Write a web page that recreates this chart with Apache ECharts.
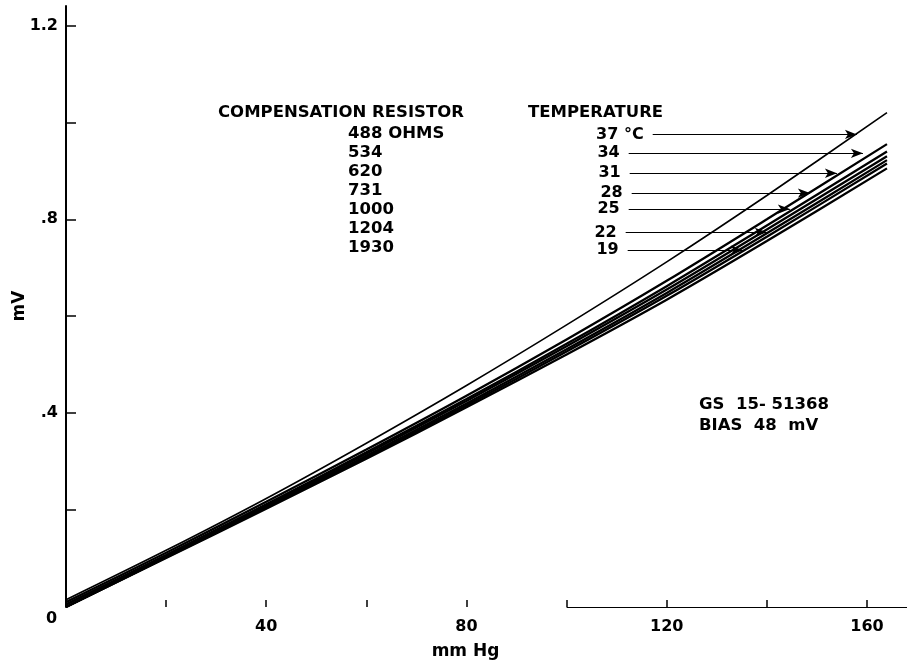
<!DOCTYPE html>
<html>
<head>
<meta charset="utf-8">
<script src="https://cdn.jsdelivr.net/npm/echarts@6/dist/echarts.min.js"></script>
<style>
    html, body { margin: 0; padding: 0; background: #fff; }
    #chart { width: 907px; height: 661px; }
</style>
</head>
<body>
<div id="chart"></div>
<script>
    // pressure points (mm Hg)
    const pressure = [0, 20, 40, 60, 80, 100, 120, 140, 164];
    // output (mV) for each temperature curve
    const temps = ['37', '34', '31', '28', '25', '22', '19'];
    const curve37 = [0.015, 0.117, 0.224, 0.338, 0.457, 0.582, 0.712, 0.849, 1.020];
    const curve34 = [0.010, 0.112, 0.217, 0.325, 0.436, 0.552, 0.673, 0.800, 0.955];
    const curve31 = [0.005, 0.107, 0.212, 0.319, 0.429, 0.543, 0.662, 0.787, 0.940];
    const curve28 = [0.005, 0.106, 0.210, 0.316, 0.425, 0.538, 0.655, 0.779, 0.930];
    const curve25 = [0.000, 0.103, 0.207, 0.312, 0.420, 0.532, 0.648, 0.771, 0.922];
    const curve22 = [0.000, 0.102, 0.205, 0.309, 0.416, 0.527, 0.642, 0.764, 0.915];
    const curve19 = [0.000, 0.101, 0.203, 0.306, 0.412, 0.521, 0.634, 0.755, 0.905];
    const curves = [curve37, curve34, curve31, curve28, curve25, curve22, curve19];

    // temperature pointer arrows
    const arrowText = ['37 °C', '34', '31', '28', '25', '22', '19'];
    const arrowY = [0.975, 0.936, 0.895, 0.854, 0.821, 0.773, 0.736];
    const arrowFrom = [117.2, 112.4, 112.6, 113.0, 112.4, 111.8, 112.2];
    const arrowTo = [158.0, 159.2, 154.0, 148.6, 144.6, 140.0, 135.2];

    const resistors = ['488 OHMS', '534', '620', '731', '1000', '1204', '1930'];

    const xTicks = [20, 40, 60, 80, 100, 120, 140, 160];
    const xLabels = [40, 80, 120, 160];
    const yTicks = [0.2, 0.4, 0.6, 0.8, 1.0, 1.2];
    const yLabels = [0.4, 0.8, 1.2];

    const font = 'DejaVu Sans';
    const chart = echarts.init(document.getElementById('chart'));

    const series = curves.map((c, i) => ({
        name: temps[i],
        type: 'line',
        data: pressure.map((p, j) => [p, c[j]]),
        smooth: 0.3,
        symbol: 'none',
        silent: true,
        lineStyle: { color: '#000', width: i === 0 ? 1.6 : 2.3 }
    }));

    // arrows and the short piece of x axis line
    series.push({
        type: 'line',
        data: [],
        silent: true,
        markLine: {
            silent: true,
            animation: false,
            data: arrowY.map((y, i) => [
                {
                    coord: [arrowFrom[i], y],
                    symbol: 'none',
                    label: {
                        show: true, position: 'start', formatter: arrowText[i],
                        color: '#000', fontFamily: font, fontWeight: 'bold', fontSize: 16, distance: 9
                    }
                },
                { coord: [arrowTo[i], y], symbol: 'arrow', symbolSize: [7, 12] }
            ]).concat([[
                { coord: [100, 0], symbol: 'none', label: { show: false } },
                { coord: [168, 0], symbol: 'none' }
            ]]),
            lineStyle: { color: '#000', width: 1.2, type: 'solid' }
        }
    });

    const option = {
        animation: false,
        grid: { left: 66, right: 0, top: 6, bottom: 54, containLabel: false, outerBoundsMode: 'none' },
        xAxis: {
            type: 'value',
            min: 0,
            max: 168,
            name: 'mm Hg',
            nameLocation: 'middle',
            nameGap: 36,
            nameTextStyle: { color: '#000', fontFamily: font, fontWeight: 'bold', fontSize: 17, padding: [0, 42, 0, 0] },
            axisLine: { show: false },
            axisTick: { show: true, inside: true, length: 7, customValues: xTicks, lineStyle: { color: '#000', width: 1.5 } },
            axisLabel: { customValues: xLabels, color: '#000', fontFamily: font, fontWeight: 'bold', fontSize: 16, margin: 12 },
            splitLine: { show: false }
        },
        yAxis: {
            type: 'value',
            min: 0,
            max: 1.24,
            axisLine: { show: true, lineStyle: { color: '#000', width: 2 } },
            axisTick: { show: true, inside: true, length: 10, customValues: yTicks, lineStyle: { color: '#000', width: 1.5 } },
            axisLabel: {
                customValues: yLabels,
                color: '#000', fontFamily: font, fontWeight: 'bold', fontSize: 16, margin: 8,
                formatter: v => v >= 1 ? v.toFixed(1) : '.' + Math.round(v * 10)
            },
            splitLine: { show: false }
        },
        graphic: [
            {
                type: 'text', x: 20, y: 306, rotation: Math.PI / 2,
                style: { text: 'mV', fontFamily: font, fontWeight: 'bold', fontSize: 17, fill: '#000', align: 'center', verticalAlign: 'middle' }
            },
            { type: 'text', left: 46, top: 611, style: { text: '0', fontFamily: font, fontWeight: 'bold', fontSize: 16, fill: '#000' } },
            { type: 'text', left: 218, top: 104, style: { text: 'COMPENSATION RESISTOR', fontFamily: font, fontWeight: 'bold', fontSize: 16.5, fill: '#000' } },
            { type: 'text', left: 528, top: 104, style: { text: 'TEMPERATURE', fontFamily: font, fontWeight: 'bold', fontSize: 16.5, fill: '#000' } },
            {
                type: 'text', left: 348, top: 124,
                style: { text: resistors.join('\n'), fontFamily: font, fontWeight: 'bold', fontSize: 16.5, lineHeight: 19, fill: '#000' }
            },
            { type: 'text', left: 699, top: 396, style: { text: 'GS  15- 51368', fontFamily: font, fontWeight: 'bold', fontSize: 16.5, fill: '#000' } },
            { type: 'text', left: 699, top: 417, style: { text: 'BIAS  48  mV', fontFamily: font, fontWeight: 'bold', fontSize: 16.5, fill: '#000' } }
        ],
        series: series
    };

    chart.setOption(option);
</script>
</body>
</html>
